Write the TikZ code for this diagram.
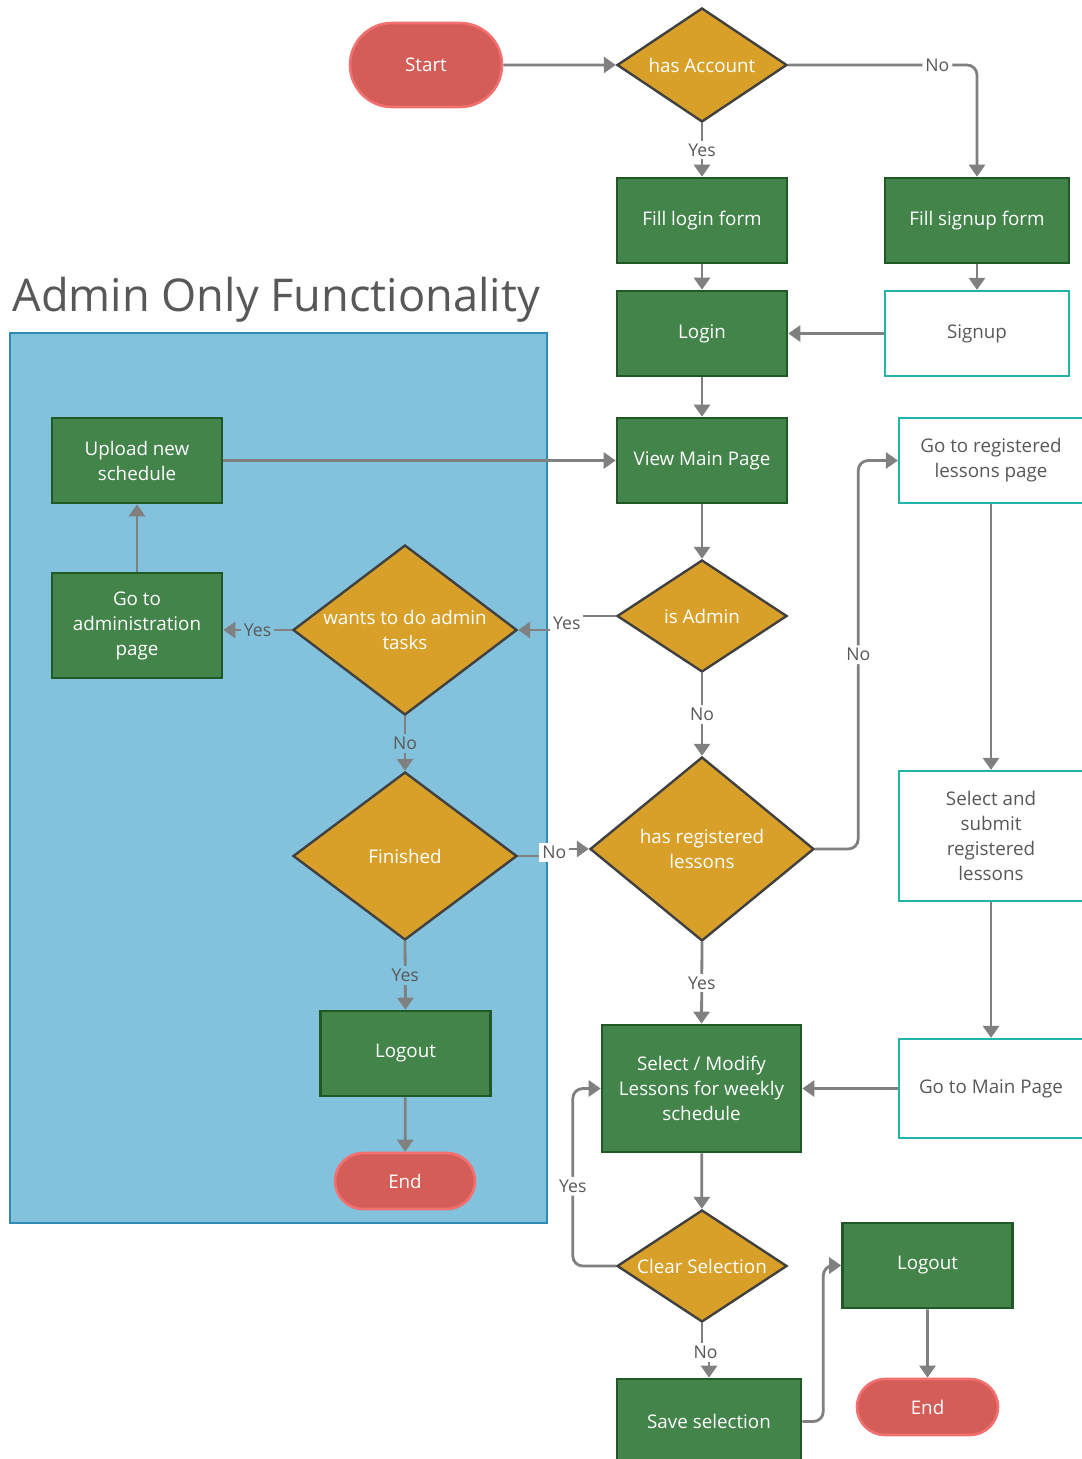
\documentclass[tikz,border=0pt]{standalone}
\usepackage{fontspec}
\setmainfont{Open Sans}
\usepackage{xcolor}
\usepackage{tikz}
\usetikzlibrary{shapes.geometric, shapes.misc, positioning, arrows.meta}
\definecolor{procgreen}{RGB}{67,132,74}
\definecolor{procedge}{RGB}{32,88,38}
\definecolor{decgold}{RGB}{217,160,41}
\definecolor{decedge}{RGB}{64,64,64}
\definecolor{termred}{RGB}{213,93,88}
\definecolor{termedge}{RGB}{242,112,112}
\definecolor{pageteal}{RGB}{32,180,172}
\definecolor{adminblue}{RGB}{130,194,220}
\definecolor{adminedge}{RGB}{46,140,180}
\definecolor{flowgray}{RGB}{128,128,128}
\definecolor{txtgray}{RGB}{88,88,88}

\begin{document}
\begin{tikzpicture}[x=0.5pt, y=-0.5pt,
  every node/.style={inner sep=2pt, font=\fontsize{9.4}{12.5}\selectfont},
  proc/.style={rectangle, draw=procedge, line width=1.3pt, fill=procgreen, text=white,
    align=center, minimum width=85pt, minimum height=42.5pt},
  page/.style={rectangle, draw=pageteal, line width=1.1pt, fill=white, text=txtgray,
    align=center, minimum width=92pt},
  decision/.style={diamond, draw=decedge, line width=1.2pt, fill=decgold, text=white,
    align=center, inner sep=0pt},
  term/.style={rounded rectangle, draw=termedge, line width=1.3pt, fill=termred, text=white,
    minimum width=80pt, minimum height=42pt},
  lbl/.style={font=\fontsize{8.8}{10}\selectfont, text=txtgray, fill=white, inner sep=1.5pt},
  arrow/.style={-{Triangle[width=8pt,length=6pt]}, flowgray, line width=1.4pt}]
\useasboundingbox (0,0) rectangle (1081,1459);

% admin only area
\node[rectangle, draw=adminedge, fill=adminblue, line width=1.3pt,
  minimum width=268.5pt, minimum height=445pt] (adminarea) at (278.5,778) {};
\node[anchor=base west, font=\fontsize{22.6}{26}\selectfont, text=txtgray] (title)
  at (8,312) {Admin Only Functionality};

% login / signup
\node[term] (start) at (426,65) {Start};
\node[decision, aspect=1.49, minimum width=85pt, minimum height=57pt] (account) at (702,65) {has Account};
\node[proc] (loginform) at (702,220.5) {Fill login form};
\node[proc, minimum width=92pt] (signupform) at (977,220.5) {Fill signup form};
\node[proc] (login) at (702,333.5) {Login};
\node[page, minimum height=42.5pt] (signup) at (977,333.5) {Signup};

% admin tasks
\node[proc] (upload) at (137,460.5) {Upload new\\schedule};
\node[proc, minimum height=52.5pt] (adminpage) at (137,625.5) {Go to\\administration\\page};
\node[decision, aspect=1.32, minimum width=112pt, minimum height=85pt] (wants) at (405,630) {wants to do admin\\tasks};
\node[decision, aspect=1.33, minimum width=112pt, minimum height=84pt] (finished) at (405,856) {Finished};
\node[proc] (adminlogout) at (405.5,1053.5) {Logout};
\node[term, minimum width=74pt, minimum height=28pt] (adminend) at (405,1181) {End};

% user path
\node[proc] (mainpage) at (702,460.5) {View Main Page};
\node[decision, aspect=1.52, minimum width=85pt, minimum height=56pt] (isadmin) at (702,616) {is Admin};
\node[decision, aspect=1.22, minimum width=112pt, minimum height=92pt] (registered) at (702,849) {has registered\\lessons};
\node[proc, minimum width=99.5pt, minimum height=63.5pt] (selectmod) at (701.5,1088.5)
  {Select / Modify\\Lessons for weekly\\schedule};
\node[decision, aspect=1.52, minimum width=85pt, minimum height=56pt] (clear) at (702,1266) {Clear Selection};
\node[proc, minimum width=92pt] (save) at (709,1421.5) {Save selection};
\node[proc] (userlogout) at (927.5,1265.5) {Logout};
\node[term, minimum width=74.5pt, minimum height=28pt] (userend) at (927.5,1407) {End};

% registered lessons
\node[page, minimum height=42.5pt] (reglessons) at (991,460.5) {Go to registered\\lessons page};
\node[page, minimum height=65pt] (submit) at (991,836) {Select and\\submit\\registered\\lessons};
\node[page, minimum height=49.5pt] (gomain) at (991,1088.5) {Go to Main Page};

% connectors
\draw[arrow] (start) -- (account);
\draw[arrow, rounded corners=5pt] (account.east) -| node[lbl, pos=0.395] {No} (signupform.north);
\draw[arrow] (account.south) -- node[lbl] {Yes} (loginform.north);
\draw[arrow] (loginform) -- (login);
\draw[arrow] (signupform) -- (signup);
\draw[arrow] (signup) -- (login);
\draw[arrow] (login) -- (mainpage);
\draw[arrow] (upload) -- (mainpage);
\draw[arrow] (adminpage) -- (upload);
\draw[arrow] (mainpage) -- (isadmin);
\draw[arrow] (isadmin.west) -- ++(-49,0) |- node[lbl, pos=0.25] {Yes} (wants.east);
\draw[arrow] (isadmin.south) -- node[lbl] {No} (registered.north);
\draw[arrow, rounded corners=5pt] (registered.east) -- ++(43,0) |- node[lbl, pos=0.25] {No} (reglessons.west);
\draw[arrow] (wants.west) -- node[lbl, fill=adminblue] {Yes} (wants.west -| adminpage.east);
\draw[arrow] (wants.south) -- node[lbl, fill=adminblue] {No} (finished.north);
\draw[arrow] (finished.east) -- ++(36,0) |- node[lbl, pos=0.25] {No} (registered.west);
\draw[arrow] (finished.south) -- node[lbl, fill=adminblue] {Yes} (adminlogout.north);
\draw[arrow] (adminlogout) -- (adminend);
\draw[arrow] (registered.south) -- node[lbl] {Yes} (selectmod.north);
\draw[arrow] (reglessons) -- (submit);
\draw[arrow] (submit) -- (gomain);
\draw[arrow] (gomain) -- (selectmod);
\draw[arrow] (selectmod) -- (clear);
\draw[arrow, rounded corners=5pt] (clear.west) -- ++(-43,0) |- node[lbl, pos=0.225] {Yes} (selectmod.west);
\draw[arrow] (clear.south) -- ++(0,29) -| node[lbl, pos=0.25] {No} (save.north);
\draw[arrow, rounded corners=5pt] (save.east) -- ++(21,0) |- (userlogout.west);
\draw[arrow] (userlogout) -- (userend);
\end{tikzpicture}
\end{document}
